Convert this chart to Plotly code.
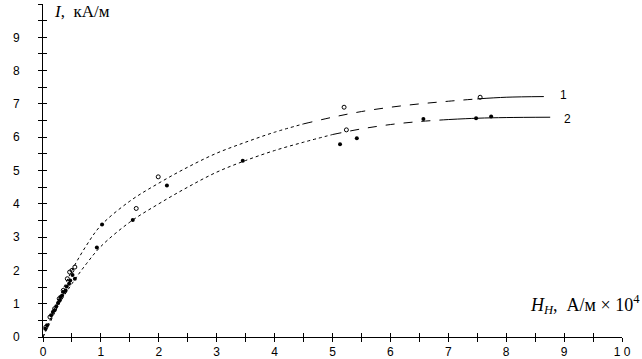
import plotly.graph_objects as go

# fitted curves
curve1_x = [0, 0.1, 0.25, 0.5, 0.75, 1.0, 1.5, 2.0, 2.5, 3.0, 3.5, 4.0, 4.5, 5.0, 5.5, 6.0, 6.5, 7.0, 7.5, 8.0, 8.65]
curve1_y = [0, 0.42, 1.05, 2.0, 2.75, 3.35, 4.08, 4.62, 5.1, 5.52, 5.85, 6.15, 6.4, 6.6, 6.77, 6.9, 7.0, 7.08, 7.15, 7.2, 7.22]
curve2_x = [0, 0.1, 0.25, 0.5, 0.75, 1.0, 1.5, 2.0, 2.5, 3.0, 3.5, 4.0, 4.5, 5.0, 5.5, 6.0, 6.5, 7.0, 7.5, 8.0, 8.76]
curve2_y = [0, 0.35, 0.9, 1.6, 2.2, 2.72, 3.45, 4.0, 4.5, 4.95, 5.3, 5.6, 5.85, 6.08, 6.25, 6.38, 6.47, 6.53, 6.57, 6.59, 6.6]

# measured points
pts1_x = [0.05, 0.12, 0.2, 0.28, 0.35, 0.42, 0.46, 0.5, 0.55, 1.61, 1.99, 5.20, 5.24, 7.55]
pts1_y = [0.3, 0.6, 0.85, 1.15, 1.4, 1.75, 1.95, 2.0, 2.1, 3.86, 4.81, 6.90, 6.22, 7.20]
pts2_x = [0.04, 0.07, 0.14, 0.17, 0.2, 0.23, 0.26, 0.29, 0.3, 0.33, 0.36, 0.39, 0.41, 0.45, 0.47, 0.51, 0.55,
          0.93, 1.02, 1.55, 2.14, 3.45, 5.13, 5.42, 6.57, 7.48, 7.74]
pts2_y = [0.25, 0.35, 0.65, 0.75, 0.8, 0.92, 1.02, 1.1, 1.2, 1.25, 1.35, 1.4, 1.52, 1.6, 1.7, 1.86, 1.75,
          2.69, 3.38, 3.51, 4.55, 5.29, 5.79, 5.97, 6.55, 6.57, 6.62]

tick_vals = [i * 0.5 for i in range(21)]
tick_text = ["0", "", "1", "", "2", "", "3", "", "4", "", "5", "", "6", "", "7", "", "8", "", "9", "", "1 0"]

curve_labels = ["1", "2"]

fig = go.Figure()

def add_curve(xs, ys, split1, split2):
    segs = [(0, split1, "dot"), (split1, split2, "dash"), (split2, len(xs) - 1, "solid")]
    for a, b, d in segs:
        fig.add_trace(go.Scatter(x=xs[a:b + 1], y=ys[a:b + 1], mode="lines",
                                 line=dict(color="black", width=1, dash=d, shape="spline"),
                                 showlegend=False, hoverinfo="skip"))

add_curve(curve1_x, curve1_y, 12, 18)
add_curve(curve2_x, curve2_y, 13, 17)

fig.add_trace(go.Scatter(x=pts1_x, y=pts1_y, mode="markers",
                         marker=dict(symbol="circle-open", size=4, color="black", line=dict(width=1)),
                         showlegend=False))
fig.add_trace(go.Scatter(x=pts2_x, y=pts2_y, mode="markers",
                         marker=dict(symbol="circle", size=4, color="black"),
                         showlegend=False))
# invisible trace for overlay axes (inner half of crossing ticks)
fig.add_trace(go.Scatter(x=[None], y=[None], xaxis="x2", yaxis="y2", showlegend=False))

tickfont = dict(family="Liberation Sans, Arial, sans-serif", size=12, color="black")
common = dict(range=[0, 10], tickvals=tick_vals, ticktext=tick_text, showgrid=False, zeroline=False,
              showline=True, linecolor="black", linewidth=1, ticks="outside", ticklen=4,
              tickcolor="black", tickwidth=1, tickfont=tickfont, automargin=False, fixedrange=True)

fig.update_layout(
    width=642, height=359,
    margin=dict(l=43, r=20, t=4, b=22),
    paper_bgcolor="white", plot_bgcolor="white",
    xaxis=dict(**common),
    yaxis=dict(**common, ticklabelstandoff=16),
    xaxis2=dict(range=[0, 10], overlaying="x", anchor="y", tickvals=tick_vals, showticklabels=False,
                ticks="inside", ticklen=4, tickcolor="black", showgrid=False, zeroline=False, showline=False),
    yaxis2=dict(range=[0, 10], overlaying="y", anchor="x", tickvals=tick_vals, showticklabels=False,
                ticks="inside", ticklen=4, tickcolor="black", showgrid=False, zeroline=False, showline=False),
)

serif = dict(family="Liberation Serif, Times New Roman, serif", color="black")
fig.add_annotation(x=0.15, y=10, xref="x", yref="y", xanchor="left", yanchor="top",
                   text="<i>I</i>,  кА/м", showarrow=False, font=dict(size=17, **serif), yshift=4)
fig.add_annotation(x=1.0, y=0.62, xref="paper", yref="y", xanchor="right", yanchor="bottom",
                   text="<i>H<sub>H</sub></i>,  А/м × 10<sup>4</sup>", showarrow=False,
                   font=dict(size=18, **serif), xshift=20, yshift=-3)
fig.add_annotation(x=curve1_x[-1], y=curve1_y[-1], xref="x", yref="y", xanchor="left",
                   text=curve_labels[0], showarrow=False, xshift=14, yshift=2, font=tickfont)
fig.add_annotation(x=curve2_x[-1], y=curve2_y[-1], xref="x", yref="y", xanchor="left",
                   text=curve_labels[1], showarrow=False, xshift=12, yshift=-2, font=tickfont)

fig.write_html("out.html", config={"displayModeBar": False})

# remove default page margin so the figure sits at the window's top-left corner
with open("out.html", encoding="utf-8") as f:
    html = f.read()
html = html.replace("<head>", "<head><style>html,body{margin:0;padding:0;overflow:hidden;}</style>", 1)
with open("out.html", "w", encoding="utf-8") as f:
    f.write(html)
